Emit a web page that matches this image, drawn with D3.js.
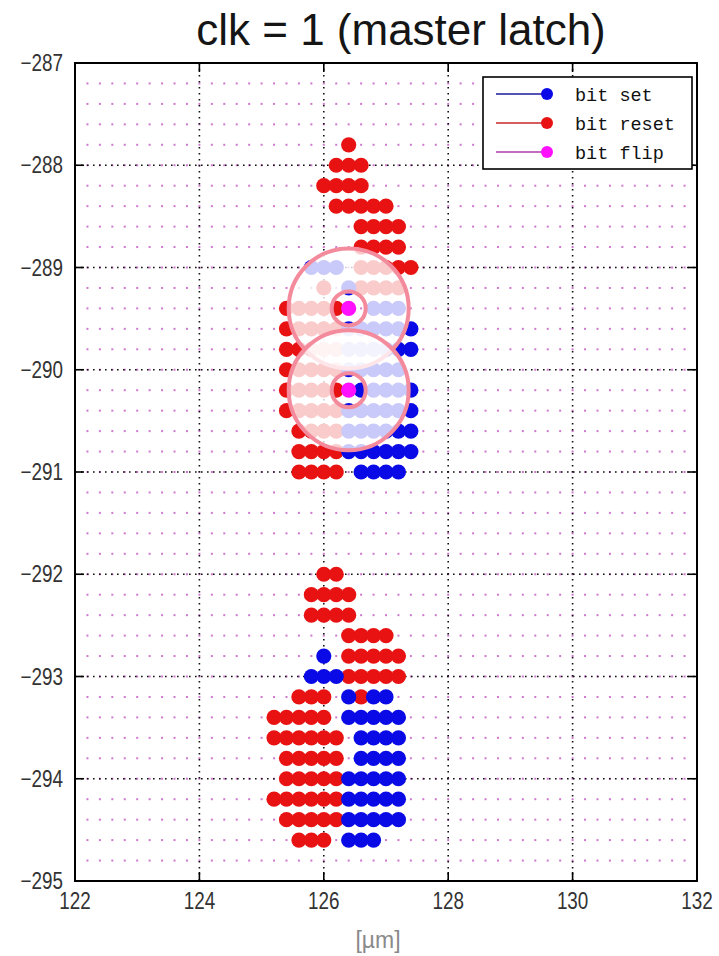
<!DOCTYPE html>
<html>
<head>
<meta charset="utf-8">
<script src="https://cdn.jsdelivr.net/npm/d3@7"></script>
<style>
  body { margin: 0; background: #fff; }
  svg { display: block; }
</style>
</head>
<body>
<div id="chart"></div>
<script>
// ---- data ----
const xTicks = [122, 124, 126, 128, 130, 132];
const yTicks = [-287, -288, -289, -290, -291, -292, -293, -294, -295];

// one entry per scan row: y position, then x of "bit reset" and "bit set" points
const rowY = [
  -287.8, -288.0, -288.2, -288.4, -288.6, -288.8, -289.0, -289.2, -289.4, -289.6,
  -289.8, -290.0, -290.2, -290.4, -290.6, -290.8, -291.0,
  -292.0, -292.2, -292.4, -292.6, -292.8, -293.0, -293.2, -293.4, -293.6,
  -293.8, -294.0, -294.2, -294.4, -294.6
];
const resetX = [
  [126.4],
  [126.2, 126.4, 126.6],
  [126.0, 126.2, 126.4, 126.6],
  [126.2, 126.4, 126.6, 126.8, 127.0],
  [126.6, 126.8, 127.0, 127.2],
  [126.6, 126.8, 127.0, 127.2],
  [126.6, 126.8, 127.0, 127.2, 127.4],
  [126.0, 126.6, 126.8, 127.0, 127.2],
  [125.4, 125.6, 125.8, 126.0, 126.2],
  [125.4, 125.6, 125.8, 126.0, 126.2],
  [125.4, 125.6, 125.8, 126.0, 126.2],
  [125.4, 125.6, 125.8, 126.0, 126.2],
  [125.4, 125.6, 125.8, 126.0, 126.2],
  [125.4, 125.6, 125.8, 126.0, 126.2],
  [125.6, 125.8, 126.0, 126.2],
  [125.6, 125.8, 126.0, 126.2],
  [125.6, 125.8, 126.0, 126.2],
  [126.0, 126.2],
  [125.8, 126.0, 126.2, 126.4],
  [125.8, 126.0, 126.2, 126.4],
  [126.4, 126.6, 126.8, 127.0],
  [126.4, 126.6, 126.8, 127.0, 127.2],
  [126.4, 126.6, 126.8, 127.0, 127.2],
  [125.6, 125.8, 126.0, 126.6],
  [125.2, 125.4, 125.6, 125.8, 126.0],
  [125.2, 125.4, 125.6, 125.8, 126.0, 126.2],
  [125.4, 125.6, 125.8, 126.0, 126.2],
  [125.4, 125.6, 125.8, 126.0, 126.2],
  [125.2, 125.4, 125.6, 125.8, 126.0, 126.2],
  [125.4, 125.6, 125.8, 126.0, 126.2],
  [125.6, 125.8, 126.0]
];
const setX = [
  [], [], [], [], [], [],
  [125.8, 126.0, 126.2],
  [126.4],
  [126.8, 127.0, 127.2],
  [126.4, 126.6, 126.8, 127.0, 127.2, 127.4],
  [126.4, 126.6, 126.8, 127.0, 127.2, 127.4],
  [126.4, 126.6, 126.8, 127.0, 127.2],
  [126.6, 126.8, 127.0, 127.2, 127.4],
  [126.4, 126.6, 126.8, 127.0, 127.2, 127.4],
  [126.4, 126.6, 126.8, 127.0, 127.2, 127.4],
  [126.4, 126.6, 126.8, 127.0, 127.2, 127.4],
  [126.6, 126.8, 127.0, 127.2],
  [], [], [], [],
  [126.0],
  [125.8, 126.0, 126.2],
  [126.4, 126.8, 127.0],
  [126.4, 126.6, 126.8, 127.0, 127.2],
  [126.6, 126.8, 127.0, 127.2],
  [126.6, 126.8, 127.0, 127.2],
  [126.4, 126.6, 126.8, 127.0, 127.2],
  [126.4, 126.6, 126.8, 127.0, 127.2],
  [126.4, 126.6, 126.8, 127.0, 127.2],
  [126.4, 126.6, 126.8]
];
const flipPts = [[126.4, -289.4], [126.4, -290.2]];

const legendLabels = ['bit set', 'bit reset', 'bit flip'];
const legendLine = ['#1a1a9a', '#c62828', '#b03ab0'];
const legendMark = ['#0a0ae8', '#e81212', '#ff10ff'];

const scanStep = 0.2;

// ---- layout ----
const W = 719, H = 956;
const mLeft = 75, mRight = 697, mTop = 63, mBottom = 881;
const dotR = 7.6;

const svg = d3.select('#chart').append('svg')
  .attr('width', W).attr('height', H);

const x = d3.scaleLinear().domain([122, 132]).range([mLeft, mRight]);
const y = d3.scaleLinear().domain([-295, -287]).range([mBottom, mTop]);

// scan positions (pink specks)
const scanXs = d3.range(122 + scanStep, 132 - scanStep / 2, scanStep);
const scanYs = d3.range(-287 - scanStep, -295 + scanStep / 2, -scanStep);
const scanG = svg.append('g').attr('fill', '#cf78cf');
scanYs.forEach(yy => {
  scanG.selectAll(null)
    .data(scanXs)
    .enter()
    .append('rect')
    .attr('x', d => x(d) - 1)
    .attr('y', y(yy) - 1)
    .attr('width', 2)
    .attr('height', 2);
});

// dotted grid
const grid = svg.append('g')
  .attr('stroke', '#111')
  .attr('stroke-width', 1.6)
  .attr('stroke-dasharray', '1.6,4.4');
grid.selectAll('.gx')
  .data(xTicks.slice(1, -1))
  .enter().append('line')
  .attr('x1', d => x(d)).attr('x2', d => x(d))
  .attr('y1', mTop).attr('y2', mBottom);
grid.selectAll('.gy')
  .data(yTicks.slice(1, -1))
  .enter().append('line')
  .attr('y1', d => y(d)).attr('y2', d => y(d))
  .attr('x1', mLeft).attr('x2', mRight);

// data points
const resetPts = [], setPts = [];
rowY.forEach((yy, i) => {
  resetX[i].forEach(xx => resetPts.push([xx, yy]));
  setX[i].forEach(xx => setPts.push([xx, yy]));
});

const drawDots = (pts, color) => {
  svg.append('g').selectAll('circle')
    .data(pts)
    .enter().append('circle')
    .attr('cx', d => x(d[0]))
    .attr('cy', d => y(d[1]))
    .attr('r', dotR)
    .attr('fill', color);
};
drawDots(resetPts, '#e81212');
drawDots(setPts, '#0a0ae6');
drawDots(flipPts, '#ff10ff');

// highlight rings around flipped bits
const bigR = 60, smallR = 17;
flipPts.forEach(p => {
  const cx = x(p[0]), cy = y(p[1]);
  const path = d3.path();
  path.moveTo(cx + bigR, cy);
  path.arc(cx, cy, bigR, 0, Math.PI * 2);
  path.moveTo(cx + smallR, cy);
  path.arc(cx, cy, smallR, 0, Math.PI * 2);
  const g = svg.append('g');
  g.append('path')
    .attr('d', path.toString())
    .attr('fill', '#fff')
    .attr('fill-opacity', 0.78)
    .attr('fill-rule', 'evenodd');
  g.selectAll('circle')
    .data([bigR, smallR])
    .enter().append('circle')
    .attr('cx', cx).attr('cy', cy)
    .attr('r', d => d)
    .attr('fill', 'none')
    .attr('stroke', '#f48b9c')
    .attr('stroke-width', 4);
});

// axes box + inward ticks
const tickLen = 9;
const axisG = svg.append('g').attr('stroke', '#000').attr('stroke-width', 1.6);
xTicks.forEach(t => {
  axisG.append('line').attr('x1', x(t)).attr('x2', x(t)).attr('y1', mBottom).attr('y2', mBottom - tickLen);
  axisG.append('line').attr('x1', x(t)).attr('x2', x(t)).attr('y1', mTop).attr('y2', mTop + tickLen);
});
yTicks.forEach(t => {
  axisG.append('line').attr('y1', y(t)).attr('y2', y(t)).attr('x1', mLeft).attr('x2', mLeft + tickLen);
  axisG.append('line').attr('y1', y(t)).attr('y2', y(t)).attr('x1', mRight).attr('x2', mRight - tickLen);
});
svg.append('rect')
  .attr('x', mLeft).attr('y', mTop)
  .attr('width', mRight - mLeft).attr('height', mBottom - mTop)
  .attr('fill', 'none').attr('stroke', '#000').attr('stroke-width', 2);

// tick labels: slightly condensed sans, like the original bitmap font
const tickFont = '"Liberation Sans", Arial, sans-serif';
svg.append('g').selectAll('text')
  .data(xTicks)
  .enter().append('text')
  .attr('transform', d => `translate(${x(d)},${mBottom + 28}) scale(0.82,1)`)
  .attr('text-anchor', 'middle')
  .attr('font-family', tickFont)
  .attr('font-size', 23)
  .attr('fill', '#333')
  .text(d => d);
svg.append('g').selectAll('text')
  .data(yTicks)
  .enter().append('text')
  .attr('transform', d => `translate(${mLeft - 12},${y(d) + 8}) scale(0.82,1)`)
  .attr('text-anchor', 'end')
  .attr('font-family', tickFont)
  .attr('font-size', 23)
  .attr('fill', '#333')
  .text(d => '\u2212' + Math.abs(d));

// title and axis label
svg.append('text')
  .attr('x', 401).attr('y', 45)
  .attr('text-anchor', 'middle')
  .attr('font-family', '"Liberation Sans", Arial, sans-serif')
  .attr('font-size', 44)
  .attr('fill', '#151515')
  .text('clk = 1 (master latch)');
svg.append('text')
  .attr('x', 378).attr('y', 948)
  .attr('text-anchor', 'middle')
  .attr('font-family', '"Liberation Sans", Arial, sans-serif')
  .attr('font-size', 23)
  .attr('fill', '#8a8a8a')
  .text('[\u00b5m]');

// legend
const lg = svg.append('g');
lg.append('rect')
  .attr('x', 483).attr('y', 77)
  .attr('width', 209).attr('height', 92)
  .attr('fill', '#fff').attr('stroke', '#000').attr('stroke-width', 1.6);
legendLabels.forEach((lab, i) => {
  const ly = 94 + i * 29;
  lg.append('line')
    .attr('x1', 496).attr('x2', 547)
    .attr('y1', ly).attr('y2', ly)
    .attr('stroke', legendLine[i]).attr('stroke-width', 1.6);
  lg.append('circle')
    .attr('cx', 547).attr('cy', ly).attr('r', 6)
    .attr('fill', legendMark[i]);
  lg.append('text')
    .attr('x', 575).attr('y', ly + 7)
    .attr('font-family', '"Liberation Mono", "DejaVu Sans Mono", monospace')
    .attr('font-size', 18.5)
    .attr('fill', '#111')
    .text(lab);
});
</script>
</body>
</html>
